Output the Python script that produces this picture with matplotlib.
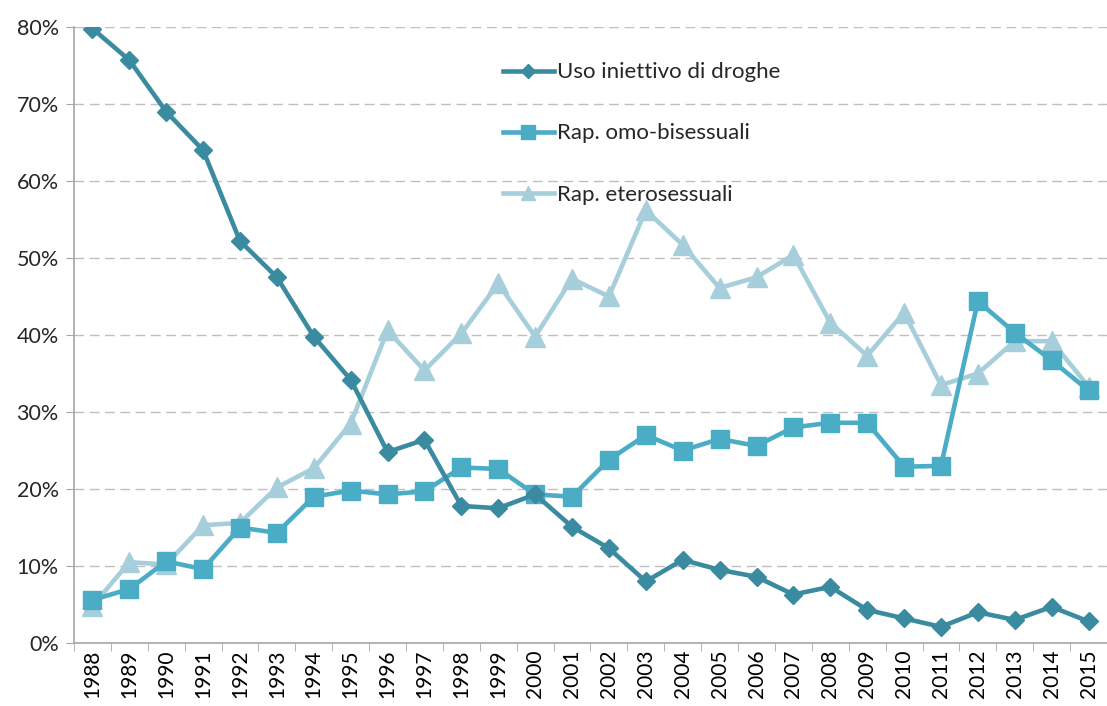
import matplotlib
matplotlib.use('Agg')
import matplotlib.pyplot as plt
from matplotlib.ticker import FixedLocator, PercentFormatter

years = list(range(1988, 2016))

# Percentuali per modalità di trasmissione
idu = [79.8, 75.7, 69.0, 64.0, 52.2, 47.5, 39.8, 34.2, 24.8, 26.4,
       17.8, 17.5, 19.3, 15.1, 12.3, 8.0, 10.8, 9.5, 8.6, 6.3,
       7.3, 4.3, 3.2, 2.1, 4.0, 3.0, 4.7, 2.8]
msm = [5.6, 7.0, 10.6, 9.6, 15.0, 14.3, 19.0, 19.8, 19.3, 19.7,
       22.8, 22.6, 19.3, 19.0, 23.8, 27.0, 25.0, 26.5, 25.6, 28.0,
       28.6, 28.6, 22.9, 23.0, 44.4, 40.3, 36.7, 32.8]
hetero = [4.8, 10.5, 10.2, 15.3, 15.6, 20.2, 22.7, 28.5, 40.6, 35.4,
          40.2, 46.7, 39.8, 47.3, 45.0, 56.2, 51.7, 46.1, 47.5, 50.4,
          41.6, 37.3, 42.9, 33.5, 35.0, 39.2, 39.2, 33.3]

labels = ['Uso iniettivo di droghe', 'Rap. omo-bisessuali', 'Rap. eterosessuali']

plt.rcParams['font.family'] = ['Lato', 'DejaVu Sans']

fig = plt.figure(figsize=(11.07, 7.06), dpi=100)
ax = fig.add_axes([0.0668, 0.0892, 0.9332, 0.8726])

x = list(range(len(years)))
ax.plot(x, hetero, color='#A7CEDB', lw=3.3, marker='^', ms=14, mec='#A7CEDB',
        label=labels[2], zorder=3)
ax.plot(x, msm, color='#4BACC6', lw=3.3, marker='s', ms=12.5, mec='#4BACC6',
        label=labels[1], zorder=4)
ax.plot(x, idu, color='#3A8BA0', lw=3.3, marker='D', ms=9, mec='#3A8BA0',
        label=labels[0], zorder=5)

ax.set_xlim(-0.5, len(years) - 0.5)
ax.set_ylim(0, 80)
ax.yaxis.set_major_locator(FixedLocator(range(0, 81, 10)))
ax.yaxis.set_major_formatter(PercentFormatter(decimals=0))
ax.set_xticks(x)
ax.set_xticklabels([str(y) for y in years], rotation=90)
ax.xaxis.set_minor_locator(FixedLocator([i - 0.5 for i in range(len(years) + 1)]))
ax.tick_params(axis='x', which='major', length=0, pad=5, labelsize=15, colors='black')
ax.tick_params(axis='x', which='minor', length=6, color='#A6A6A6', direction='out')
ax.tick_params(axis='y', length=6, color='#A6A6A6', labelsize=15.5, pad=5)
for lab in ax.get_yticklabels():
    lab.set_color('#262626')

for v in range(10, 81, 10):
    ax.axhline(v, color='#BFBFBF', lw=1, ls=(0, (7, 4)), zorder=1)

for s in ['top', 'right']:
    ax.spines[s].set_visible(False)
for s in ['left', 'bottom']:
    ax.spines[s].set_color('#A6A6A6')
    ax.spines[s].set_linewidth(1.2)

h, l = ax.get_legend_handles_labels()
order = [2, 1, 0]
leg = ax.legend([h[i] for i in order], [l[i] for i in order],
                loc='upper left', bbox_to_anchor=(0.436, 0.94),
                bbox_transform=fig.transFigure, frameon=False,
                fontsize=16, handlelength=2.3, handletextpad=0.15,
                labelspacing=1.85, markerscale=0.75)
for t in leg.get_texts():
    t.set_color('#262626')

fig.savefig('out.png', dpi=100)
